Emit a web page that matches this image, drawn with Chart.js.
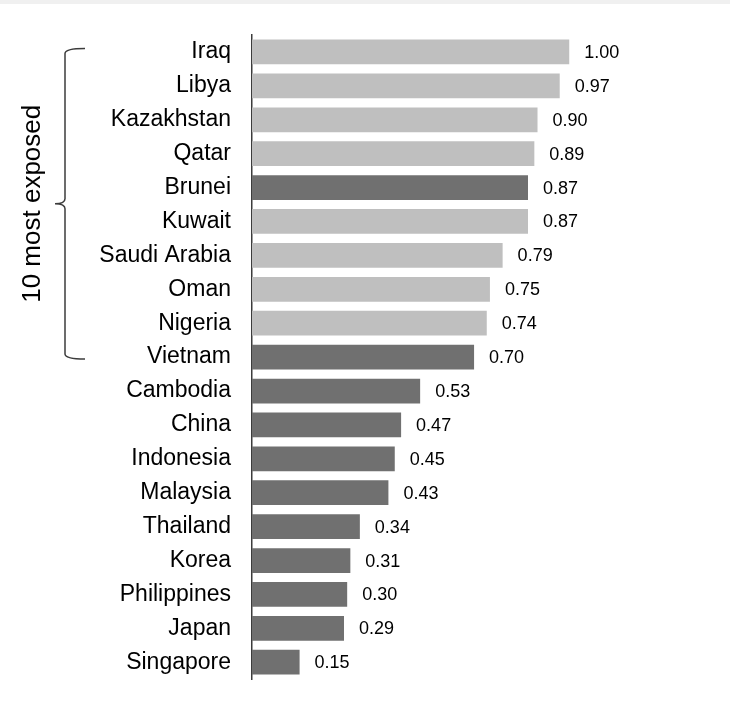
<!DOCTYPE html>
<html>
<head>
<meta charset="utf-8">
<script src="https://cdn.jsdelivr.net/npm/chart.js@4/dist/chart.umd.min.js"></script>
<style>
  html, body { margin: 0; padding: 0; background: #ffffff; }
  #wrap { position: relative; width: 730px; height: 714px; }
  #band { position: absolute; left: 0; top: 0; width: 730px; height: 4px; background: #f0f0f0; }
  canvas { display: block; }
</style>
</head>
<body>
<div id="wrap">
  <canvas id="chart" width="730" height="714"></canvas>
  <div id="band"></div>
</div>
<script>
// Exposure index by economy, highest first
const countries = ['Iraq', 'Libya', 'Kazakhstan', 'Qatar', 'Brunei', 'Kuwait', 'Saudi Arabia', 'Oman',
  'Nigeria', 'Vietnam', 'Cambodia', 'China', 'Indonesia', 'Malaysia', 'Thailand', 'Korea',
  'Philippines', 'Japan', 'Singapore'];
const exposure = [1.00, 0.97, 0.90, 0.89, 0.87, 0.87, 0.79, 0.75, 0.74, 0.70, 0.53, 0.47, 0.45,
  0.43, 0.34, 0.31, 0.30, 0.29, 0.15];
// Economies shown in the darker shade
const asiaGroup = ['Brunei', 'Vietnam', 'Cambodia', 'China', 'Indonesia', 'Malaysia', 'Thailand',
  'Korea', 'Philippines', 'Japan', 'Singapore'];
const bracketLabel = '10 most exposed';
const bracketCount = 10;

const FONT = '"Liberation Sans", Arial, Helvetica, sans-serif';
const LIGHT = '#bfbfbf';
const DARK = '#707070';
const LINE = '#3c3c3c';

const barColors = countries.map(c => asiaGroup.includes(c) ? DARK : LIGHT);

// Numeric value written just past the end of each bar
const valueLabels = {
  id: 'valueLabels',
  afterDatasetsDraw(chart) {
    const ctx = chart.ctx;
    const meta = chart.getDatasetMeta(0);
    ctx.save();
    ctx.font = '18px ' + FONT;
    ctx.fillStyle = '#000000';
    ctx.textAlign = 'left';
    ctx.textBaseline = 'middle';
    meta.data.forEach((bar, i) => {
      ctx.fillText(exposure[i].toFixed(2), bar.x + 15, bar.y + 1);
    });
    ctx.restore();
  }
};

// Curly bracket grouping the top entries, with a rotated caption
const groupBracket = {
  id: 'groupBracket',
  afterDraw(chart) {
    const ctx = chart.ctx;
    const y = chart.scales.y;
    const top = y.getPixelForValue(0) - 3.5;
    const bottom = y.getPixelForValue(bracketCount - 1) + 2;
    const mid = (top + bottom) / 2;
    const xl = 65, xr = 85, tip = 55, r = 5;
    ctx.save();
    ctx.strokeStyle = LINE;
    ctx.lineWidth = 1.5;
    ctx.beginPath();
    ctx.moveTo(xr, top);
    ctx.quadraticCurveTo(xl, top, xl, top + r);
    ctx.lineTo(xl, mid - r);
    ctx.quadraticCurveTo(xl, mid, tip, mid);
    ctx.quadraticCurveTo(xl, mid, xl, mid + r);
    ctx.lineTo(xl, bottom - r);
    ctx.quadraticCurveTo(xl, bottom, xr, bottom);
    ctx.stroke();

    ctx.translate(33, mid);
    ctx.rotate(-Math.PI / 2);
    ctx.font = '26px ' + FONT;
    ctx.fillStyle = '#000000';
    ctx.textAlign = 'center';
    ctx.textBaseline = 'middle';
    ctx.fillText(bracketLabel, 0, 0);
    ctx.restore();
  }
};

new Chart(document.getElementById('chart'), {
  type: 'bar',
  data: {
    labels: countries,
    datasets: [{
      data: exposure,
      backgroundColor: barColors,
      borderWidth: 0,
      categoryPercentage: 1.0,
      barPercentage: 0.73
    }]
  },
  options: {
    indexAxis: 'y',
    responsive: false,
    maintainAspectRatio: false,
    animation: false,
    layout: { padding: { left: 0, top: 35, right: 18, bottom: 26 } },
    plugins: {
      legend: { display: false },
      tooltip: { enabled: false }
    },
    scales: {
      x: {
        display: false,
        min: 0,
        max: 1.45
      },
      y: {
        grid: { display: false, drawTicks: false },
        border: { display: true, color: LINE, width: 1.5 },
        ticks: {
          color: '#000000',
          font: { family: FONT, size: 23 },
          padding: 21,
          autoSkip: false
        },
        afterFit(scale) { scale.width = 252; }
      }
    }
  },
  plugins: [valueLabels, groupBracket]
});
</script>
</body>
</html>
